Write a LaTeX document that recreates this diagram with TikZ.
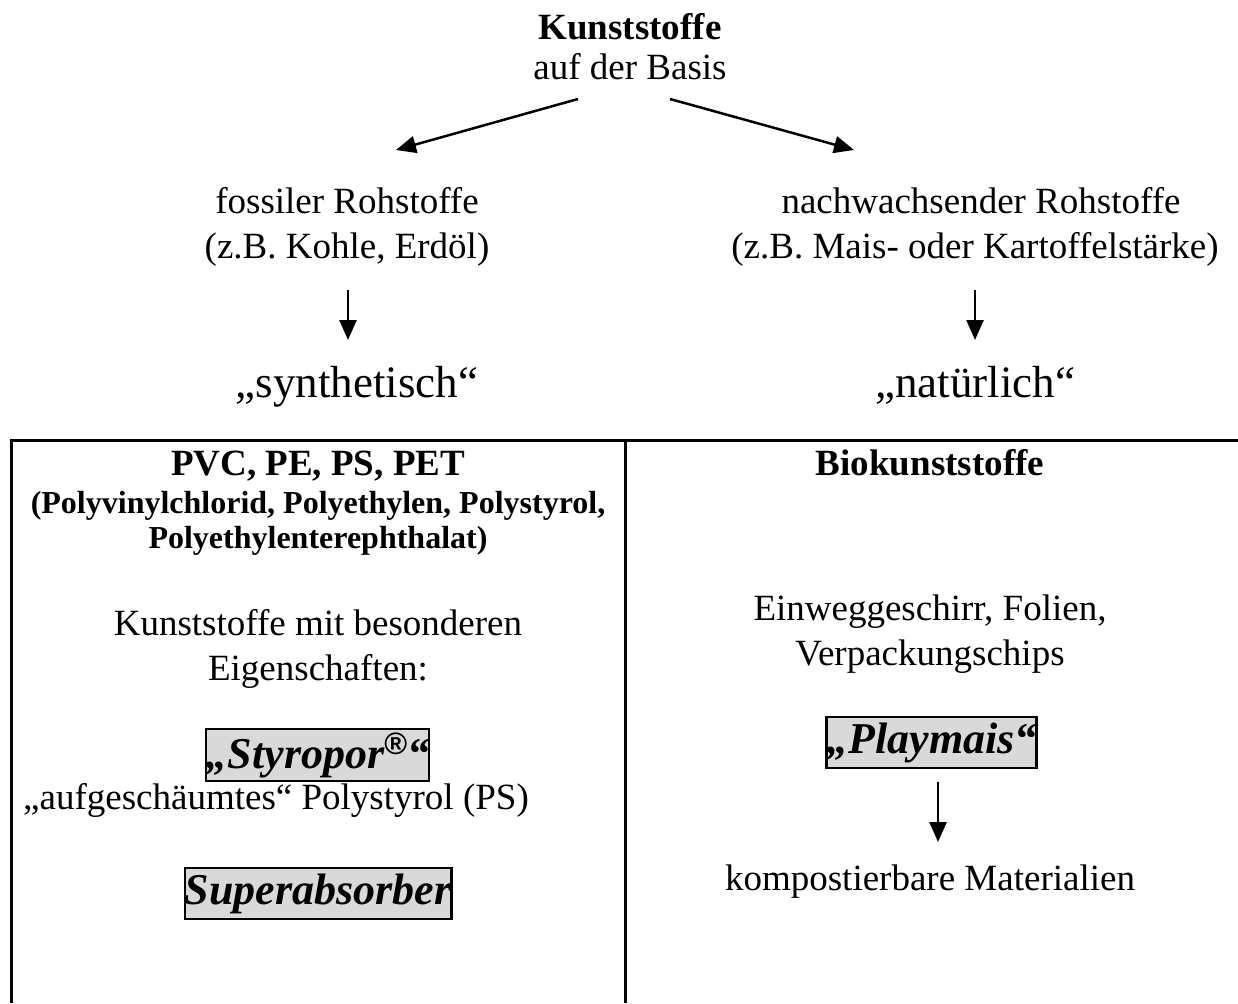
\documentclass[tikz,border=0pt]{standalone}
\usepackage{fontspec}
\setmainfont{Liberation Serif}
\newfontfamily\regsans{Liberation Sans}
\usetikzlibrary{arrows.meta}
\definecolor{boxgrey}{HTML}{D9D9D9}
\begin{document}
\begin{tikzpicture}[x=1pt,y=-1pt,
  txt/.style={font=\fontsize{37}{44}\selectfont, inner sep=0pt, anchor=base},
  bld/.style={font=\fontsize{37}{44}\selectfont\bfseries, inner sep=0pt, anchor=base},
  sml/.style={font=\fontsize{32}{36}\selectfont\bfseries, inner sep=0pt, anchor=base},
  big/.style={font=\fontsize{45}{52}\selectfont, inner sep=0pt, anchor=base},
  hl/.style={draw, line width=2.5pt, fill=boxgrey, inner sep=0pt,
    font=\fontsize{44}{50}\selectfont\bfseries\itshape, anchor=center},
  arr/.style={line width=2.5pt, -{Triangle[length=20pt,width=17pt]}},
  rulel/.style={line width=3pt}]
\useasboundingbox (0,0) rectangle (1238,1003);

% title
\node[bld] (kunst) at (630,40) {Kunststoffe};
\node[txt] (basis) at (630,80) {auf der Basis};

% branches
\node[txt] (foss1) at (347,213) {fossiler Rohstoffe};
\node[txt] (foss2) at (347,258) {(z.B. Kohle, Erdöl)};
\node[txt] (nach1) at (981,213) {nachwachsender Rohstoffe};
\node[txt] (nach2) at (975,258) {(z.B. Mais- oder Kartoffelstärke)};

\coordinate (aL0) at (578,99);
\coordinate (aL1) at (396,150);
\coordinate (aR0) at (670,99);
\coordinate (aR1) at (854,150);
\draw[arr] (aL0) -- (aL1);
\draw[arr] (aR0) -- (aR1);

\node[big] (synth) at (357,397) {„synthetisch“};
\node[big] (natur) at (975,397) {„natürlich“};

\coordinate (dL0) at (348,290);
\coordinate (dL1) at (348,340);
\coordinate (dR0) at (975,290);
\coordinate (dR1) at (975,340);
\draw[arr] (dL0) -- (dL1);
\draw[arr] (dR0) -- (dR1);

% table
\draw[rulel] (11,1003) -- (11,440) -- (1238,440);
\draw[rulel] (625,440) -- (625,1003);

% left cell
\node[bld] (pvc) at (318,475) {PVC, PE, PS, PET};
\node[sml] (poly1) at (318,513) {(Polyvinylchlorid, Polyethylen, Polystyrol,};
\node[sml] (poly2) at (318,548) {Polyethylenterephthalat)};
\node[txt] (mit1) at (318,635) {Kunststoffe mit besonderen};
\node[txt] (mit2) at (318,680) {Eigenschaften:};
\node[hl, minimum width=219pt, minimum height=52pt] (styro) at (317.5,755) {„Styropor\raisebox{14pt}{\fontsize{31}{31}\selectfont\regsans\bfseries\upshape ®}“};
\node[txt] (aufg) at (276,809) {„aufgeschäumtes“ Polystyrol (PS)};
\node[hl, minimum width=260pt, minimum height=51pt] (supa) at (318,893.5) {Superabsorber};

% right cell
\node[bld] (bio) at (930,475) {Biokunststoffe};
\node[txt] (einw1) at (930,620) {Einweggeschirr, Folien,};
\node[txt] (einw2) at (930,665) {Verpackungschips};
\node[hl, minimum width=207pt, minimum height=51pt] (play) at (931.5,742.5) {„Playmais“};
\node[txt] (komp) at (930,890) {kompostierbare Materialien};
\coordinate (pa0) at (938,782);
\coordinate (pa1) at (938,842);
\draw[arr] (pa0) -- (pa1);
\end{tikzpicture}
\end{document}
